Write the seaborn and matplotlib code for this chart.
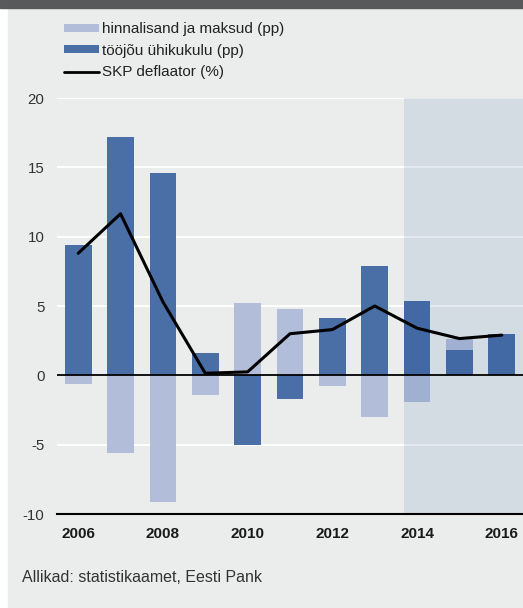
import numpy as np
import pandas as pd
import matplotlib
matplotlib.use("Agg")
import matplotlib.pyplot as plt
from matplotlib.patches import Patch, Rectangle
from matplotlib.lines import Line2D
import seaborn as sns

years = [2006, 2007, 2008, 2009, 2010, 2011, 2012, 2013, 2014, 2015, 2016]
labour_cost = [9.4, 17.2, 14.6, 1.6, -5.0, -1.7, 4.15, 7.9, 5.35, 1.8, 3.0]   # tööjõu ühikukulu (pp)
markup_tax = [-0.6, -5.6, -9.15, -1.4, 5.2, 4.75, -0.8, -3.0, -1.9, 0.8, 0.0]  # hinnalisand ja maksud (pp)
deflator = [8.8, 11.65, 5.3, 0.15, 0.25, 3.0, 3.3, 5.0, 3.4, 2.65, 2.9]        # SKP deflaator (%)
forecast_start = 2014

c_dark = "#4A6EA6"
c_light = "#B1BDD9"
bg = "#EBEDED"

sns.set_style("white")
plt.rcParams["font.family"] = ["Liberation Sans", "DejaVu Sans"]

df = pd.DataFrame({"year": years, "labour": labour_cost, "markup": markup_tax, "defl": deflator})
# light bar stacks on the dark one when both have the same sign
same = np.sign(df["labour"]) == np.sign(df["markup"])
df["markup_top"] = np.where(same, df["markup"] + df["labour"], df["markup"])

fig = plt.figure(figsize=(5.23, 6.08), dpi=100)
fig.patches.append(Rectangle((8 / 523, 0), 1, 600 / 608, transform=fig.transFigure, color=bg, zorder=-10))
fig.patches.append(Rectangle((0, 600 / 608), 1, 8 / 608, transform=fig.transFigure, color="#58595B", zorder=-10))

ax = fig.add_axes([57 / 523, 1 - 514 / 608, 466 / 523, 416 / 608])
ax.set_facecolor(bg)

sns.barplot(data=df, x="year", y="markup_top", native_scale=True, width=0.63, color=c_light,
            saturation=1, linewidth=0, ax=ax)
sns.barplot(data=df, x="year", y="labour", native_scale=True, width=0.63, color=c_dark,
            saturation=1, linewidth=0, ax=ax)

ax.axvspan(forecast_start - 0.31, 2016.5, color=(2 / 255, 62 / 255, 140 / 255), alpha=0.103, lw=0, zorder=2.5)
ax.axhline(0, color="black", lw=1.3, zorder=2.8)
sns.lineplot(data=df, x="year", y="defl", color="black", lw=2.2, ax=ax, zorder=3)

ax.set_xlim(2005.5, 2016.5)
ax.set_ylim(-10, 20)
ax.set_yticks([-10, -5, 0, 5, 10, 15, 20])
ax.set_yticklabels([str(v) for v in [-10, -5, 0, 5, 10, 15, 20]])
ax.grid(axis="y", color="white", lw=1.3)
ax.set_axisbelow(True)

ax.set_xticks(years[::2])
ax.set_xticklabels([str(y) for y in years[::2]], fontweight="bold")
ax.set_xticks(np.arange(2005.5, 2017, 1), minor=True)
ax.tick_params(axis="x", which="major", length=0, pad=9, labelsize=11, labelcolor="#1a1a1a")
ax.tick_params(axis="x", which="minor", length=4, width=1, color="black", direction="out")
ax.tick_params(axis="y", length=0, pad=9, labelsize=10.8, labelcolor="#333333")
ax.set_xlabel("")
ax.set_ylabel("")

for s in ["top", "right", "left"]:
    ax.spines[s].set_visible(False)
ax.spines["bottom"].set_color("black")
ax.spines["bottom"].set_linewidth(1.5)

handles = [Patch(color=c_light, lw=0), Patch(color=c_dark, lw=0), Line2D([], [], color="black", lw=2)]
labels = ["hinnalisand ja maksud (pp)", "tööjõu ühikukulu (pp)", "SKP deflaator (%)"]
fig.legend(handles, labels, loc="upper left", bbox_to_anchor=(58 / 523, 1 - 16 / 608), frameon=False,
           fontsize=11, handlelength=2.3, handleheight=0.45, handletextpad=0.2, labelspacing=0.5,
           labelcolor="#222222", borderaxespad=0)

fig.text(22 / 523, 1 - 577 / 608, "Allikad: statistikaamet, Eesti Pank", fontsize=11.5, color="#333333",
         va="center", ha="left")

fig.savefig("out.png", dpi=100, facecolor="white")
